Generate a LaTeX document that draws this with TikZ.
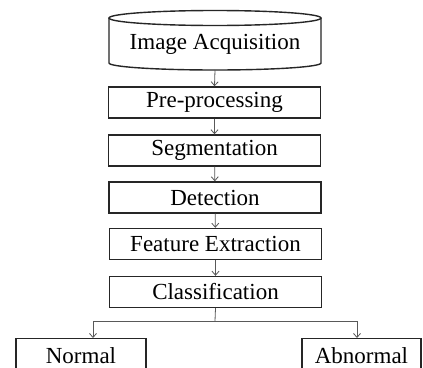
\documentclass[tikz,border=0pt]{standalone}
\usepackage{fontspec}
\setmainfont{Liberation Serif}
\usetikzlibrary{arrows.meta}
\begin{document}
\begin{tikzpicture}[x=1pt,y=-1pt,
  stage/.style={draw=black!85,line width=1.4pt,minimum width=212pt,minimum height=31pt,inner sep=0pt,font=\fontsize{23}{24}\selectfont},
  leaf/.style={draw=black!85,line width=1.4pt,minimum height=34pt,inner sep=0pt,text height=15pt,text depth=0pt,font=\fontsize{23}{24}\selectfont},
  flow/.style={draw=black!65,line width=0.8pt,-{Straight Barb[length=4pt,width=7pt]}},
  link/.style={draw=black!65,line width=0.8pt}]
\useasboundingbox (0,0) rectangle (423,367);
\clip (0,0) rectangle (423,367);
\fill[white] (0,0) rectangle (423,367);
% cylinder
\draw[black!85,line width=1.4pt] (215,18) ellipse [x radius=106, y radius=7.5];
\draw[black!85,line width=1.4pt] (109,18) -- (109,63) arc[start angle=180,end angle=0,x radius=106,y radius=7] -- (321,18);
\node[font=\fontsize{23}{24}\selectfont,inner sep=0pt] (acq) at (215,44) {Image Acquisition};
\coordinate (acqb) at (215,70);
\node[stage] (pre) at (214.5,102.5) {Pre-processing};
\node[stage] (seg) at (214.5,150.5) {Segmentation};
\node[stage] (det) at (215,197.5) {Detection};
\node[stage] (feat) at (215.5,244) {Feature Extraction};
\node[stage] (cls) at (215.5,292) {Classification};
\node[leaf,minimum width=130pt,anchor=north] (norm) at (81,338) {Normal};
\node[leaf,minimum width=119pt,anchor=north] (abn) at (361.5,338) {Abnormal};
\coordinate (split) at (215,321);
\coordinate (lft) at (93,321);
\coordinate (rgt) at (357,321);
\draw[flow] (acqb) -- (pre.north);
\draw[flow] (pre) -- (seg);
\draw[flow] (seg) -- (det);
\draw[flow] (det) -- (feat);
\draw[flow] (feat) -- (cls);
\draw[link] (cls.south) -- (split);
\draw[link] (lft) -- (rgt);
\draw[flow] (lft) -- (lft |- norm.north);
\draw[flow] (rgt) -- (rgt |- abn.north);
\end{tikzpicture}
\end{document}
